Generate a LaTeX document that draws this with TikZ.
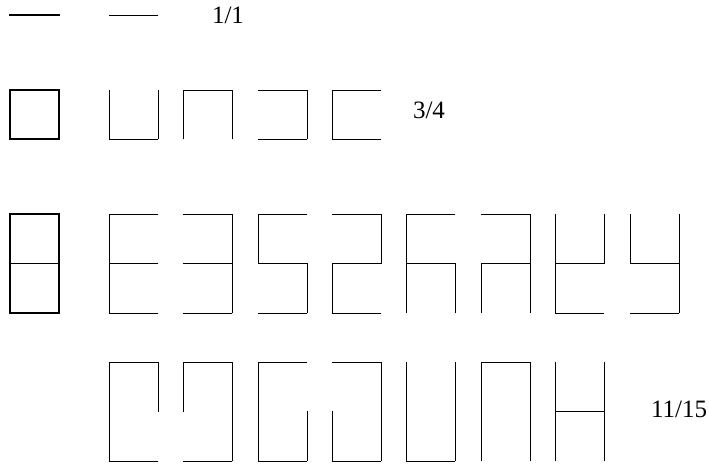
\documentclass[tikz,border=0pt]{standalone}
\usepackage{fontspec}
\setmainfont{Liberation Serif}
\begin{document}
\begin{tikzpicture}[x=1pt,y=-1pt,
  thinseg/.style={line width=0.8pt,line cap=rect},
  thickseg/.style={line width=1.8pt,line cap=rect},
  lbl/.style={font=\fontsize{25}{30}\selectfont,inner sep=0pt}]
\useasboundingbox (0,0) rectangle (709,466);
% Row 1
\draw[thickseg] (10,15) -- (59,15);
\draw[thinseg] (109,15) -- (158,15);
\node[lbl] (t1) at (228,15) {1/1};
% Row 2 (square, y 90..139)
\draw[thickseg] (10,90) rectangle (59,139);
\foreach \x/\T/\L/\R/\B in {109/0/1/1/1, 183/1/1/1/0, 258/1/0/1/1, 332/1/1/0/1}{
  \begin{scope}[shift={(\x,90)}]
    \ifnum\T=1 \draw[thinseg] (0,0) -- (49,0); \fi
    \ifnum\L=1 \draw[thinseg] (0,0) -- (0,49); \fi
    \ifnum\R=1 \draw[thinseg] (49,0) -- (49,49); \fi
    \ifnum\B=1 \draw[thinseg] (0,49) -- (49,49); \fi
  \end{scope}
}
\node[lbl] (t2) at (429,110) {3/4};
% Row 3 (double square, y 214..313)
\draw[thickseg] (10,214) rectangle (59,313);
\draw[thickseg] (10,263.5) -- (59,263.5);
\foreach \x/\T/\UL/\UR/\M/\LL/\LR/\B in {
  109/1/1/0/1/1/0/1, 183/1/0/1/1/0/1/1, 258/1/1/0/1/0/1/1, 332/1/0/1/1/1/0/1,
  406/1/1/0/1/1/1/0, 481/1/0/1/1/1/1/0, 555/0/1/1/1/1/0/1, 630/0/1/1/1/0/1/1}{
  \begin{scope}[shift={(\x,214)}]
    \ifnum\T=1 \draw[thinseg] (0,0) -- (49,0); \fi
    \ifnum\UL=1 \draw[thinseg] (0,0) -- (0,49.5); \fi
    \ifnum\UR=1 \draw[thinseg] (49,0) -- (49,49.5); \fi
    \ifnum\M=1 \draw[thinseg] (0,49.5) -- (49,49.5); \fi
    \ifnum\LL=1 \draw[thinseg] (0,49.5) -- (0,99); \fi
    \ifnum\LR=1 \draw[thinseg] (49,49.5) -- (49,99); \fi
    \ifnum\B=1 \draw[thinseg] (0,99) -- (49,99); \fi
  \end{scope}
}
% Row 4 (tall rectangle, y 362..461)
\foreach \x/\T/\UL/\UR/\M/\LL/\LR/\B in {
  109/1/1/1/0/1/0/1, 183/1/1/1/0/0/1/1, 258/1/1/0/0/1/1/1, 332/1/0/1/0/1/1/1,
  406/0/1/1/0/1/1/1, 481/1/1/1/0/1/1/0, 555/0/1/1/1/1/1/0}{
  \begin{scope}[shift={(\x,362)}]
    \ifnum\T=1 \draw[thinseg] (0,0) -- (49,0); \fi
    \ifnum\UL=1 \draw[thinseg] (0,0) -- (0,49.5); \fi
    \ifnum\UR=1 \draw[thinseg] (49,0) -- (49,49.5); \fi
    \ifnum\M=1 \draw[thinseg] (0,49.5) -- (49,49.5); \fi
    \ifnum\LL=1 \draw[thinseg] (0,49.5) -- (0,99); \fi
    \ifnum\LR=1 \draw[thinseg] (49,49.5) -- (49,99); \fi
    \ifnum\B=1 \draw[thinseg] (0,99) -- (49,99); \fi
  \end{scope}
}
\node[lbl] (t4) at (679,409) {11/15};
\end{tikzpicture}
\end{document}
